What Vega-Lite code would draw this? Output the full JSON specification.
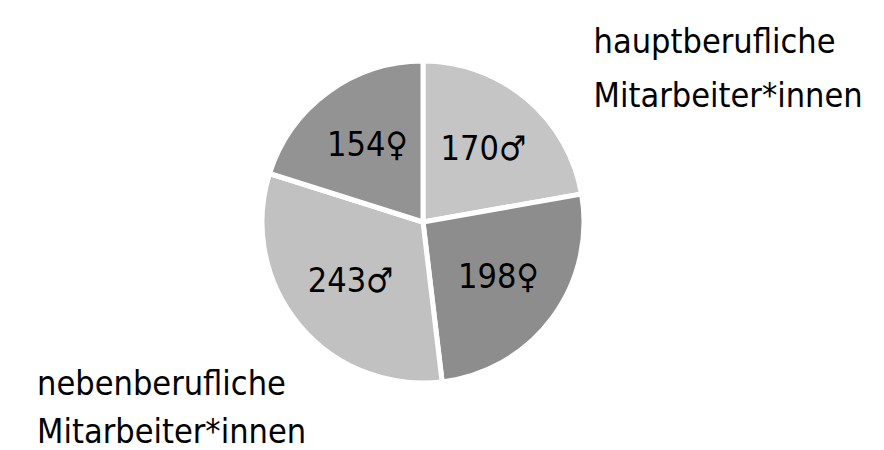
{
  "$schema": "https://vega.github.io/schema/vega-lite/v6.json",
  "autosize": {"type": "none"},
  "width": 846,
  "height": 444,
  "padding": {"left": 0, "top": 0, "right": 38, "bottom": 6},
  "background": "white",
  "config": {"view": {"stroke": null}},
  "data": {
    "values": [
      {"Gruppe": "hauptberufliche Mitarbeiter*innen", "Kategorie": "hauptberuflich männlich", "Anzahl": 170, "Label": "170♂"},
      {"Gruppe": "hauptberufliche Mitarbeiter*innen", "Kategorie": "hauptberuflich weiblich", "Anzahl": 198, "Label": "198♀"},
      {"Gruppe": "nebenberufliche Mitarbeiter*innen", "Kategorie": "nebenberuflich männlich", "Anzahl": 243, "Label": "243♂"},
      {"Gruppe": "nebenberufliche Mitarbeiter*innen", "Kategorie": "nebenberuflich weiblich", "Anzahl": 154, "Label": "154♀"}
    ]
  },
  "layer": [
    {
      "mark": {"type": "arc", "outerRadius": 161, "stroke": "white", "strokeWidth": 5},
      "encoding": {
        "theta": {"field": "Anzahl", "type": "quantitative", "stack": true},
        "order": {"field": "Kategorie", "type": "nominal"},
        "color": {
          "field": "Kategorie",
          "type": "nominal",
          "legend": null,
          "scale": {
            "domain": ["hauptberuflich männlich", "hauptberuflich weiblich", "nebenberuflich männlich", "nebenberuflich weiblich"],
            "range": ["#c5c5c5", "#8d8d8d", "#c1c1c1", "#939393"]
          }
        }
      }
    },
    {
      "mark": {"type": "text", "radius": 94, "fontSize": 34, "font": "DejaVu Sans Condensed, sans-serif", "color": "black", "align": "center", "baseline": "middle"},
      "encoding": {
        "theta": {"field": "Anzahl", "type": "quantitative", "stack": true},
        "order": {"field": "Kategorie", "type": "nominal"},
        "text": {"field": "Label", "type": "nominal"}
      }
    },
    {
      "transform": [{"aggregate": [{"op": "sum", "field": "Anzahl", "as": "Summe"}], "groupby": ["Gruppe"]}],
      "mark": {"type": "text", "radius": 247, "fontSize": 34, "lineBreak": " ", "lineHeight": 54, "font": "DejaVu Sans Condensed, sans-serif", "color": "black", "align": "left", "baseline": "middle"},
      "encoding": {
        "theta": {"field": "Summe", "type": "quantitative", "stack": true, "scale": {"range": [-0.749, 5.534]}},
        "order": {"field": "Gruppe", "type": "nominal"},
        "text": {"field": "Gruppe", "type": "nominal"},
        "opacity": {"condition": {"test": "datum.Gruppe === 'hauptberufliche Mitarbeiter*innen'", "value": 1}, "value": 0}
      }
    },
    {
      "transform": [{"aggregate": [{"op": "sum", "field": "Anzahl", "as": "Summe"}], "groupby": ["Gruppe"]}],
      "mark": {"type": "text", "radius": 419, "fontSize": 34, "lineBreak": " ", "lineHeight": 48, "font": "DejaVu Sans Condensed, sans-serif", "color": "black", "align": "left", "baseline": "middle"},
      "encoding": {
        "theta": {"field": "Summe", "type": "quantitative", "stack": true, "scale": {"range": [-0.340, 5.943]}},
        "order": {"field": "Gruppe", "type": "nominal"},
        "text": {"field": "Gruppe", "type": "nominal"},
        "opacity": {"condition": {"test": "datum.Gruppe === 'nebenberufliche Mitarbeiter*innen'", "value": 1}, "value": 0}
      }
    }
  ],
  "resolve": {"scale": {"theta": "independent"}}
}
